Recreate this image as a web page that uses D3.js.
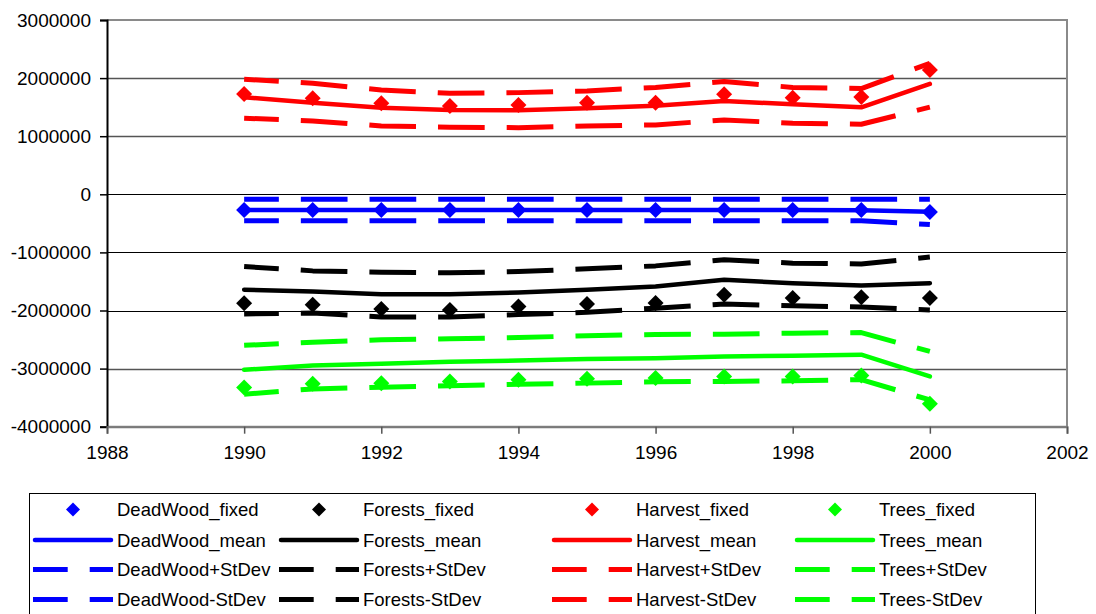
<!DOCTYPE html>
<html>
<head>
<meta charset="utf-8">
<script src="https://cdn.jsdelivr.net/npm/d3@7"></script>
<style>
  html, body { margin: 0; padding: 0; background: #fff; }
  svg { display: block; font-family: "Liberation Sans", Arial, sans-serif; }
</style>
</head>
<body>
<svg id="chart" width="1096" height="614"></svg>
<script>
// ---------- data ----------
const years = [1990, 1991, 1992, 1993, 1994, 1995, 1996, 1997, 1998, 1999, 2000];
const xTicks = [1988, 1990, 1992, 1994, 1996, 1998, 2000, 2002];
const yTicks = [-4000000, -3000000, -2000000, -1000000, 0, 1000000, 2000000, 3000000];

const deadwoodFixed = [-270000, -270000, -270000, -270000, -270000, -270000, -270000, -270000, -270000, -270000, -305000];
const forestsFixed  = [-1874000, -1900000, -1976000, -1990000, -1930000, -1890000, -1873000, -1730000, -1787000, -1770000, -1787000];
const harvestFixed  = [1727000, 1653000, 1567000, 1520000, 1538000, 1577000, 1577000, 1722000, 1663000, 1675000, 2140000];
const treesFixed    = [-3325000, -3260000, -3250000, -3220000, -3190000, -3175000, -3163000, -3135000, -3135000, -3120000, -3605000];

const deadwoodMean = [-270000, -270000, -270000, -270000, -270000, -270000, -270000, -270000, -270000, -275000, -300000];
const forestsMean  = [-1644000, -1673000, -1720000, -1720000, -1690000, -1644000, -1587000, -1472000, -1530000, -1570000, -1530000];
const harvestMean  = [1670000, 1575000, 1490000, 1450000, 1445000, 1480000, 1525000, 1606000, 1550000, 1498000, 1900000];
const treesMean    = [-3020000, -2946000, -2917000, -2883000, -2860000, -2836000, -2820000, -2790000, -2780000, -2760000, -3135000];

const deadwoodPlus = [-85000, -85000, -85000, -85000, -85000, -85000, -85000, -85000, -85000, -85000, -85000];
const forestsPlus  = [-1243000, -1318000, -1340000, -1352000, -1330000, -1283000, -1232000, -1128000, -1185000, -1200000, -1080000];
const harvestPlus  = [1980000, 1910000, 1796000, 1738000, 1750000, 1780000, 1840000, 1940000, 1840000, 1820000, 2255000];
const treesPlus    = [-2600000, -2545000, -2505000, -2487000, -2465000, -2435000, -2413000, -2407000, -2390000, -2380000, -2705000];

const deadwoodMinus = [-455000, -455000, -455000, -455000, -455000, -455000, -455000, -455000, -455000, -455000, -520000];
const forestsMinus  = [-2060000, -2045000, -2110000, -2110000, -2070000, -2030000, -1960000, -1890000, -1920000, -1940000, -1990000];
const harvestMinus  = [1310000, 1263000, 1176000, 1154000, 1147000, 1176000, 1194000, 1280000, 1223000, 1205000, 1500000];
const treesMinus    = [-3440000, -3350000, -3320000, -3295000, -3270000, -3250000, -3227000, -3220000, -3210000, -3190000, -3540000];

const seriesNames = ["DeadWood", "Forests", "Harvest", "Trees"];
const seriesColors = ["#0000ff", "#000000", "#ff0000", "#00ff00"];

// ---------- layout ----------
const svg = d3.select("#chart");
const plot = { left: 107, right: 1067, top: 20, bottom: 426.7 };
const x = d3.scaleLinear().domain([1988, 2002]).range([plot.left, plot.right]);
const y = d3.scaleLinear().domain([-4000000, 3000000]).range([plot.bottom, plot.top]);
const AXIS_FONT = 19;
const LEGEND_FONT = 18.5;
const DASH = "46.7,22";
const DASH_OFFSET = 12;

// series definitions (order as in legend: fixed, mean, +StDev, -StDev)
const groups = [
  { kind: "fixed", suffix: "_fixed", data: [deadwoodFixed, forestsFixed, harvestFixed, treesFixed] },
  { kind: "mean",  suffix: "_mean",  data: [deadwoodMean, forestsMean, harvestMean, treesMean] },
  { kind: "plus",  suffix: "+StDev", data: [deadwoodPlus, forestsPlus, harvestPlus, treesPlus] },
  { kind: "minus", suffix: "-StDev", data: [deadwoodMinus, forestsMinus, harvestMinus, treesMinus] }
];

// ---------- gridlines ----------
svg.append("g")
  .selectAll("line")
  .data(yTicks.filter(d => d !== 3000000 && d !== -4000000))
  .join("line")
  .attr("x1", plot.left).attr("x2", plot.right)
  .attr("y1", d => Math.round(y(d)) + 0.5).attr("y2", d => Math.round(y(d)) + 0.5)
  .attr("stroke", d => (d === 2000000 || d === 1000000 || d === -3000000) ? "#555" : "#000")
  .attr("stroke-width", d => (d === 2000000 || d === 1000000 || d === -3000000) ? 1.5 : 1);

// plot border (gray) top/right/bottom
svg.append("path")
  .attr("d", `M${plot.left},${plot.top}H${plot.right}V${plot.bottom}H${plot.left}`)
  .attr("fill", "none").attr("stroke", "#8a8a8a").attr("stroke-width", 2);

// ---------- axes ----------
const yAxis = d3.axisLeft(y).tickValues(yTicks).tickFormat(d => String(d)).tickSize(7).tickPadding(9);
const gy = svg.append("g").attr("transform", `translate(${plot.left},0)`).call(yAxis);
gy.select(".domain").attr("stroke", "#000").attr("stroke-width", 2);
gy.selectAll(".tick line").attr("stroke", "#000").attr("stroke-width", 1.5);
gy.selectAll(".tick text").attr("font-size", AXIS_FONT).attr("font-family", "Liberation Sans, Arial, sans-serif").attr("fill", "#000").attr("dy", "0.33em");

const xAxis = d3.axisBottom(x).tickValues(xTicks).tickFormat(d => String(d)).tickSize(7).tickPadding(12);
const gx = svg.append("g").attr("transform", `translate(0,${plot.bottom})`).call(xAxis);
gx.select(".domain").attr("stroke", "#7a7a7a").attr("stroke-width", 2);
gx.selectAll(".tick line").attr("stroke", "#555").attr("stroke-width", 1.5);
gx.selectAll(".tick text").attr("font-size", AXIS_FONT).attr("font-family", "Liberation Sans, Arial, sans-serif").attr("fill", "#000");

// ---------- marks ----------
const lineGen = d3.line().x((d, i) => x(years[i])).y(d => y(d));
const diamond = (cx, cy, r) => `M${cx},${cy - r}L${cx + r},${cy}L${cx},${cy + r}L${cx - r},${cy}Z`;

groups.forEach(g => {
  g.data.forEach((vals, si) => {
    const color = seriesColors[si];
    if (g.kind === "fixed") {
      svg.append("g").selectAll("path")
        .data(vals)
        .join("path")
        .attr("d", (d, i) => diamond(x(years[i]), y(d), 8))
        .attr("fill", color);
    } else {
      const p = svg.append("path")
        .datum(vals)
        .attr("d", lineGen)
        .attr("fill", "none")
        .attr("stroke", color);
      if (g.kind === "mean") {
        p.attr("stroke-width", 4.5).attr("stroke-linecap", "round").attr("stroke-linejoin", "round");
      } else {
        p.attr("stroke-width", 5).attr("stroke-dasharray", DASH).attr("stroke-dashoffset", DASH_OFFSET)
         .attr("stroke-linecap", "butt").attr("stroke-linejoin", "round");
      }
    }
  });
});

// ---------- legend ----------
const legend = { left: 29.5, top: 493.5, right: 1035.5, bottom: 640 };
svg.append("rect")
  .attr("x", legend.left).attr("y", legend.top)
  .attr("width", legend.right - legend.left).attr("height", legend.bottom - legend.top)
  .attr("fill", "#fff").attr("stroke", "#000").attr("stroke-width", 1);

const colX = [33, 279, 552, 795];
const rowY = [509.5, 540, 569.5, 599.5];
const sampleW = 80;

groups.forEach((g, ri) => {
  seriesNames.forEach((name, ci) => {
    const color = seriesColors[ci];
    const sx = colX[ci], cy = rowY[ri];
    if (g.kind === "fixed") {
      svg.append("path").attr("d", diamond(sx + sampleW / 2, cy, 7)).attr("fill", color);
    } else {
      const l = svg.append("line")
        .attr("x1", sx).attr("x2", sx + sampleW)
        .attr("y1", cy).attr("y2", cy)
        .attr("stroke", color);
      if (g.kind === "mean") {
        l.attr("stroke-width", 4.5).attr("stroke-linecap", "round")
         .attr("x1", sx + 2).attr("x2", sx + sampleW - 2);
      } else {
        l.attr("stroke-width", 5).attr("stroke-dasharray", DASH).attr("stroke-dashoffset", DASH_OFFSET);
      }
    }
    svg.append("text")
      .attr("x", sx + 84).attr("y", cy + 6.7)
      .attr("font-size", LEGEND_FONT).attr("fill", "#000")
      .text(name + g.suffix);
  });
});
</script>
</body>
</html>
